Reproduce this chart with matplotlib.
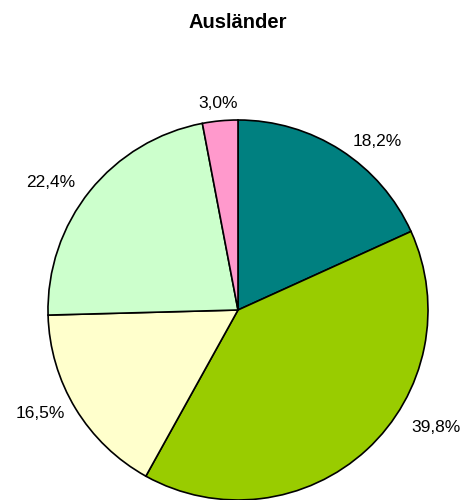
import matplotlib
matplotlib.use("Agg")
import matplotlib.pyplot as plt

plt.rcParams['font.family'] = ['Liberation Sans', 'DejaVu Sans']

# data
anteile = [18.2, 39.8, 16.5, 22.4, 3.0]
beschriftung = ['18,2%', '39,8%', '16,5%', '22,4%', '3,0%']
farben = ['#008080', '#99CC00', '#FFFFCC', '#CCFFCC', '#FF99CC']

# label positions in pixels (x from left, y from top)
label_px = [(377, 141), (436, 428), (40, 414), (51, 182), (218, 103)]

W, H = 467, 500
cx, cy, r = 238, 310, 190

fig = plt.figure(figsize=(W / 100, H / 100), dpi=100)
ax = fig.add_axes([0, 0, 1, 1])
ax.pie(anteile, colors=farben, startangle=90, counterclock=False,
       radius=1.0, wedgeprops=dict(edgecolor='black', linewidth=1.2))
ax.set_xlim(-cx / r, (W - cx) / r)
ax.set_ylim(-(H - cy) / r, cy / r)
ax.set_aspect('equal')
ax.axis('off')

for txt, (px, py) in zip(beschriftung, label_px):
    ax.text((px - cx) / r, (cy - py) / r, txt, ha='center', va='center', fontsize=12.5)

fig.text(238 / W, 1 - 22 / H, 'Ausländer', ha='center', va='center',
         fontsize=14.5, fontweight='bold')

fig.savefig('out.png', dpi=100, facecolor='white')
